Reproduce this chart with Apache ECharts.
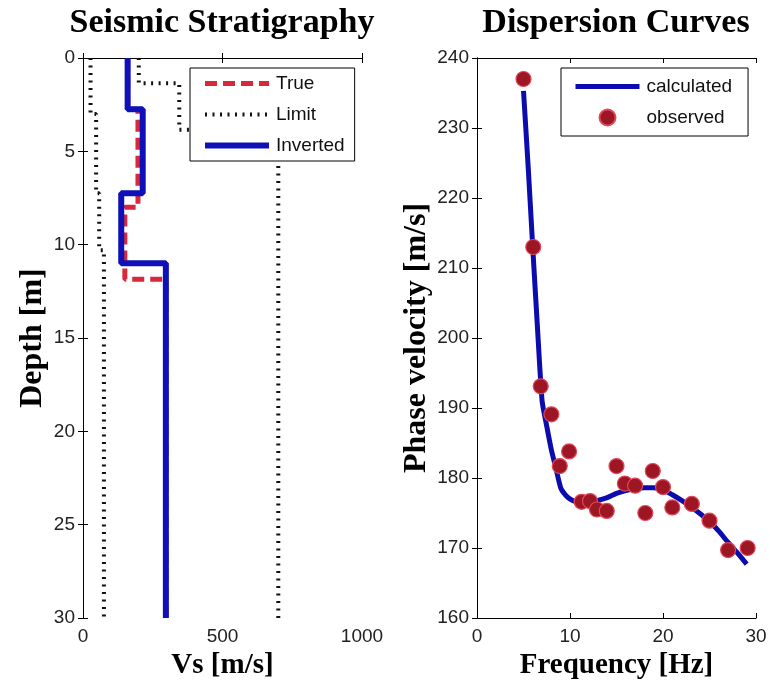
<!DOCTYPE html>
<html>
<head>
<meta charset="utf-8">
<script src="https://cdn.jsdelivr.net/npm/echarts@6/dist/echarts.min.js"></script>
<style>
  html, body { margin: 0; padding: 0; background: #fff; }
  #chart { width: 770px; height: 686px; }
</style>
</head>
<body>
<div id="chart"></div>
<script>
// ---- Seismic stratigraphy: layer boundaries (m) and shear-wave velocities (m/s) ----
const depthBoundsTrue = [0, 2.75, 8.0, 11.85, 30];
const vsTrue = [160, 197, 150, 297];
const depthBoundsInverted = [0, 2.75, 7.25, 11.0, 30];
const vsInverted = [160, 214, 137, 297];
const depthBoundsLowerLimit = [0, 3.0, 7.25, 10.3, 30];
const vsLowerLimit = [27, 47, 58, 75];
const depthBoundsUpperLimit = [0, 1.35, 3.85, 30];
const vsUpperLimit = [200, 345, 700];

// ---- Dispersion curves ----
const freqObserved = [5.0, 6.05, 6.85, 8.0, 8.9, 9.9, 11.25, 12.15, 12.9, 13.95, 15.0,
                      15.9, 17.0, 18.1, 18.9, 20.0, 21.0, 23.1, 25.0, 27.0, 29.1];
const velObserved = [237.0, 213.0, 193.1, 189.1, 181.7, 183.8, 176.6, 176.7, 175.5, 175.3, 181.7,
                     179.2, 178.9, 175.0, 181.0, 178.7, 175.8, 176.3, 173.9, 169.7, 170.0];
const freqCalculated = [5.0, 5.5, 6.0, 6.5, 7.0, 7.5, 8.0, 8.5, 9.0, 9.5, 10, 11, 12, 13, 14, 15,
                        16, 17, 18, 19, 20, 21, 22, 23, 24, 25, 26, 27, 28, 29];
const velCalculated = [235.3, 224.5, 212.8, 201.5, 191.0, 187.4, 184.0, 181.3, 178.6, 177.6, 177.0,
                       176.5, 176.5, 176.8, 177.2, 177.8, 178.2, 178.5, 178.6, 178.6, 178.3, 177.6,
                       176.8, 175.9, 174.9, 173.8, 172.4, 170.8, 169.3, 167.7];

// ---- Axis ticks ----
const vsTicks = { min: 0, max: 1000, interval: 500 };
const depthTicks = { min: 0, max: 30, interval: 5 };
const freqTicks = { min: 0, max: 30, interval: 10 };
const velTicks = { min: 160, max: 240, interval: 10 };

// Turn layer boundaries + velocities into a staircase of [vs, depth] points
function stepProfile(bounds, vs) {
  const pts = [];
  for (let i = 0; i < vs.length; i++) {
    pts.push([vs[i], bounds[i]]);
    pts.push([vs[i], bounds[i + 1]]);
  }
  return pts;
}
function pairs(xs, ys) { return xs.map((x, i) => [x, ys[i]]); }

// Line styles shared by the series and their legend samples
const styleTrue = { color: '#d62a3c', width: 5, type: [12, 6], cap: 'butt' };
const styleLimit = { color: '#111', width: 4, type: [2, 5.5], cap: 'butt' };
const styleInverted = { color: '#1010b8', width: 6 };
const styleCalculated = { color: '#0c0cae', width: 5 };

const plainNumber = v => String(v);
const labelFont = { fontFamily: 'Liberation Sans', fontSize: 19, color: '#222', formatter: plainNumber };
const nameFont = { fontFamily: 'Liberation Serif', fontWeight: 'bold', fontSize: 29, color: '#000' };
const lineAxis = { show: true, lineStyle: { color: '#000', width: 1 } };
const tickIn = { show: true, inside: true, length: 5, lineStyle: { color: '#000', width: 1 } };

function mainX(grid, ticks, name) {
  return Object.assign({
    type: 'value', gridIndex: grid, position: 'bottom',
    axisLine: lineAxis, axisTick: tickIn, splitLine: { show: false },
    axisLabel: Object.assign({ margin: 9 }, labelFont),
    name: name, nameLocation: 'middle', nameGap: 28, nameTextStyle: nameFont
  }, ticks);
}
function mirrorX(grid, ticks) {
  return Object.assign({
    type: 'value', gridIndex: grid, position: 'top',
    axisLine: lineAxis, axisTick: tickIn, splitLine: { show: false },
    axisLabel: { show: false }
  }, ticks);
}
function mainY(grid, ticks, name, gap, inverse) {
  return Object.assign({
    type: 'value', gridIndex: grid, position: 'left', inverse: inverse,
    axisLine: lineAxis, axisTick: tickIn, splitLine: { show: false },
    axisLabel: Object.assign({ margin: 8 }, labelFont),
    name: name, nameLocation: 'middle', nameGap: gap,
    nameTextStyle: Object.assign({}, nameFont, { fontSize: 32 })
  }, ticks);
}
function mirrorY(grid, ticks, inverse) {
  return Object.assign({
    type: 'value', gridIndex: grid, position: 'right', inverse: inverse,
    axisLine: lineAxis, axisTick: tickIn, splitLine: { show: false },
    axisLabel: { show: false }
  }, ticks);
}

// Line-only legend entries: full-width sample line, no symbol in the middle
const lineOnly = (name, style) => ({ name: name, itemStyle: { opacity: 0 }, lineStyle: style });

const legendBase = {
  orient: 'vertical', backgroundColor: '#fff', borderColor: '#000', borderWidth: 1,
  borderRadius: 0, itemWidth: 64, itemHeight: 14,
  textStyle: { fontFamily: 'Liberation Sans', fontSize: 19, color: '#111', padding: [0, 0, 0, 2] }
};

const titleStyle = { font: 'bold 34px "Liberation Serif"', fill: '#000',
                     textAlign: 'center', textVerticalAlign: 'middle', align: 'center', verticalAlign: 'middle' };

const chart = echarts.init(document.getElementById('chart'), null, { renderer: 'canvas' });
chart.setOption({
  backgroundColor: '#fff',
  animation: false,
  graphic: [
    { type: 'text', x: 222, y: 23, style: Object.assign({ text: 'Seismic Stratigraphy' }, titleStyle) },
    { type: 'text', x: 616, y: 23, style: Object.assign({ text: 'Dispersion Curves' }, titleStyle) }
  ],
  grid: [
    { left: 83, top: 58, width: 279, height: 560 },
    { left: 477, top: 58, width: 279, height: 560 }
  ],
  xAxis: [
    mainX(0, vsTicks, 'Vs [m/s]'),
    mirrorX(0, vsTicks),
    mainX(1, freqTicks, 'Frequency [Hz]'),
    mirrorX(1, freqTicks)
  ],
  yAxis: [
    mainY(0, depthTicks, 'Depth [m]', 34, true),
    mirrorY(0, depthTicks, true),
    mainY(1, velTicks, 'Phase velocity [m/s]', 44, false),
    mirrorY(1, velTicks, false)
  ],
  legend: [
    Object.assign({}, legendBase, {
      data: [lineOnly('True', styleTrue), lineOnly('Limit', styleLimit), lineOnly('Inverted', styleInverted)],
      left: 190, top: 68, padding: [6, 10, 6, 12], itemGap: 12
    }),
    Object.assign({}, legendBase, {
      data: [lineOnly('calculated', styleCalculated), { name: 'observed', icon: 'circle' }],
      left: 561, top: 68, padding: [9, 16, 9, 12], itemGap: 12, itemHeight: 16
    })
  ],
  series: [
    {
      name: 'True', type: 'line', xAxisIndex: 0, yAxisIndex: 0, symbol: 'none',
      data: stepProfile(depthBoundsTrue, vsTrue),
      lineStyle: styleTrue, itemStyle: { color: styleTrue.color }, z: 2
    },
    {
      name: 'Limit', type: 'line', xAxisIndex: 0, yAxisIndex: 0, symbol: 'none',
      data: stepProfile(depthBoundsLowerLimit, vsLowerLimit),
      lineStyle: styleLimit, itemStyle: { color: styleLimit.color }, z: 2
    },
    {
      name: 'Limit', type: 'line', xAxisIndex: 0, yAxisIndex: 0, symbol: 'none',
      data: stepProfile(depthBoundsUpperLimit, vsUpperLimit),
      lineStyle: styleLimit, itemStyle: { color: styleLimit.color }, z: 2
    },
    {
      name: 'Inverted', type: 'line', xAxisIndex: 0, yAxisIndex: 0, symbol: 'none',
      data: stepProfile(depthBoundsInverted, vsInverted),
      lineStyle: styleInverted, itemStyle: { color: styleInverted.color }, z: 3
    },
    {
      name: 'calculated', type: 'line', xAxisIndex: 2, yAxisIndex: 2, symbol: 'none',
      data: pairs(freqCalculated, velCalculated), smooth: 0.2,
      lineStyle: styleCalculated, itemStyle: { color: styleCalculated.color }, z: 3
    },
    {
      name: 'observed', type: 'scatter', xAxisIndex: 2, yAxisIndex: 2,
      data: pairs(freqObserved, velObserved), symbol: 'circle', symbolSize: 15,
      itemStyle: { color: '#9c1624', borderColor: '#e0485a', borderWidth: 1.2, opacity: 1 }, z: 4
    }
  ]
});
</script>
</body>
</html>
